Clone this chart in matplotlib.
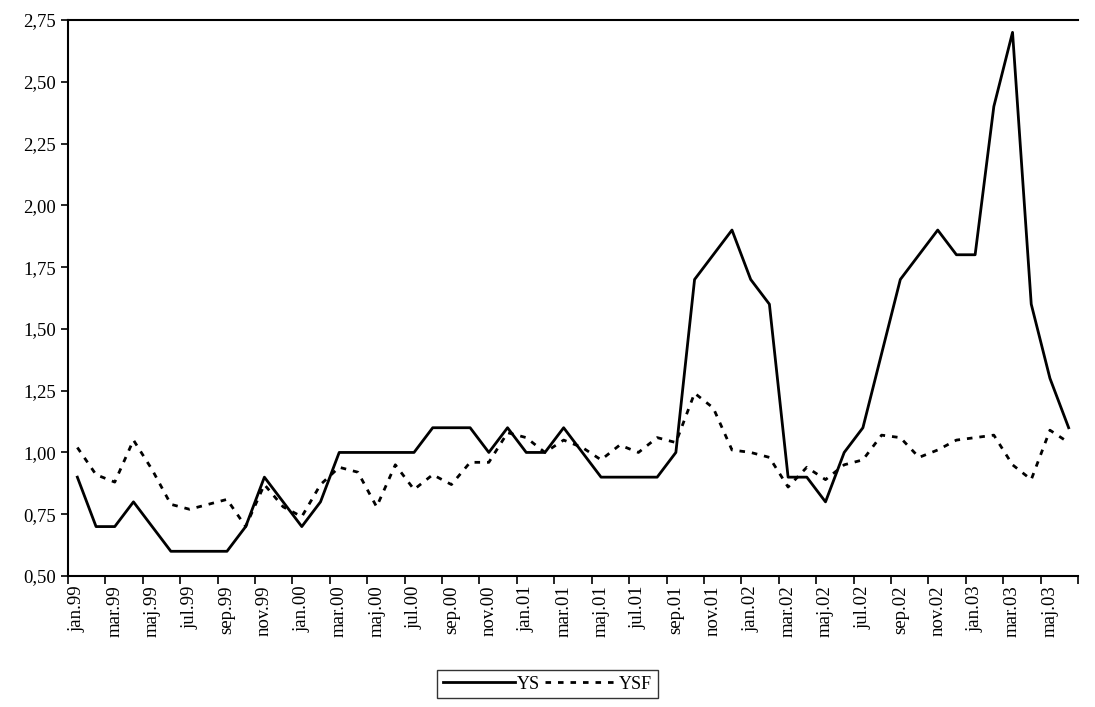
import numpy as np
import matplotlib
matplotlib.use("Agg")
import matplotlib.pyplot as plt

plt.rcParams['font.family'] = ['Liberation Serif', 'DejaVu Serif']

months = ["jan", "feb", "mar", "apr", "maj", "jun", "jul", "aug", "sep", "okt", "nov", "dec"]
labels = []
for yr in ["99", "00", "01", "02", "03"]:
    for m in months:
        labels.append(m + "." + yr)
labels = labels[:54]

ys = [0.9, 0.7, 0.7, 0.8, 0.7, 0.6, 0.6, 0.6, 0.6, 0.7, 0.9, 0.8,
      0.7, 0.8, 1.0, 1.0, 1.0, 1.0, 1.0, 1.1, 1.1, 1.1, 1.0, 1.1,
      1.0, 1.0, 1.1, 1.0, 0.9, 0.9, 0.9, 0.9, 1.0, 1.7, 1.8, 1.9,
      1.7, 1.6, 0.9, 0.9, 0.8, 1.0, 1.1, 1.4, 1.7, 1.8, 1.9, 1.8,
      1.8, 2.4, 2.7, 1.6, 1.3, 1.1]
ysf = [1.02, 0.91, 0.88, 1.05, 0.93, 0.79, 0.77, 0.79, 0.81, 0.70, 0.87, 0.78,
       0.74, 0.87, 0.94, 0.92, 0.78, 0.95, 0.85, 0.91, 0.87, 0.96, 0.96, 1.08,
       1.06, 1.00, 1.05, 1.02, 0.97, 1.03, 1.00, 1.06, 1.04, 1.24, 1.18, 1.01,
       1.00, 0.98, 0.86, 0.94, 0.89, 0.95, 0.97, 1.07, 1.06, 0.98, 1.01, 1.05,
       1.06, 1.07, 0.95, 0.89, 1.09, 1.04]

fig = plt.figure(figsize=(10.95, 7.07), dpi=100)
ax = fig.add_axes([68/1095, 1-576/707, (1078-68)/1095, (576-20)/707])
x = np.arange(len(ys))
ax.plot(x, ys, color='black', lw=2, label='YS')
ax.plot(x, ysf, color='black', lw=2, ls=(0, (2, 2.5)), label='YSF')

ax.set_ylim(0.5, 2.75)
ax.set_yticks(np.arange(0.5, 2.76, 0.25))
ax.set_yticklabels([f"{v:.2f}".replace(".", ",") for v in np.arange(0.5, 2.76, 0.25)], fontsize=13.5)
ax.set_xlim(-0.5, len(ys) - 1)
ax.set_xticks(x[::2])
ax.set_xticklabels(labels[::2], rotation=90, fontsize=13.5)
ax.set_xticks(np.arange(-0.5, len(ys), 2), minor=True)
ax.tick_params(axis='x', which='major', length=0, pad=7)
ax.tick_params(axis='x', which='minor', length=6, direction='out', width=1.2)
ax.tick_params(axis='y', direction='out', length=5, width=1.2)
ax.spines['right'].set_visible(False)
for s in ['left', 'bottom', 'top']:
    ax.spines[s].set_linewidth(1.5)

leg = fig.legend(loc='lower center', bbox_to_anchor=(0.5, 0.0), ncol=2, frameon=True,
                 fancybox=False, edgecolor='black', fontsize=13, handlelength=4,
                 columnspacing=0.3, handletextpad=0.1, borderpad=0.3)
fig.savefig("out.png", dpi=100)
